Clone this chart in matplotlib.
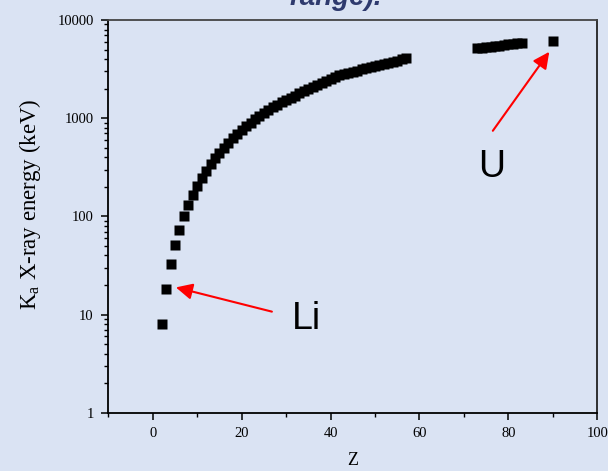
import matplotlib
matplotlib.use("Agg")
import matplotlib.pyplot as plt
from matplotlib.ticker import FixedLocator, FuncFormatter, LogLocator, MultipleLocator, NullFormatter

# ---- data ----
z_low = list(range(2, 58))
e_low = [8.05, 18.2, 32.6, 51, 73, 100, 131, 166, 204, 245, 288, 339, 389, 447,
         501, 562, 631, 692, 759, 832, 902, 977, 1047, 1122, 1202, 1288, 1365,
         1445, 1531, 1622, 1698, 1799, 1884, 1995, 2089, 2188, 2291, 2399, 2512,
         2630, 2748, 2818, 2897, 2972, 3048, 3133, 3214, 3296, 3388, 3475, 3565,
         3664, 3758, 3855, 3963, 4064]
z_high = list(range(73, 84))
e_high = [5140, 5210, 5280, 5350, 5420, 5490, 5560, 5630, 5700, 5780, 5890]
z_u = [90]
e_u = [6100]

y_ticks = [1, 10, 100, 1000, 10000]
x_ticks = [0, 20, 40, 60, 80, 100]

bg = "#dae3f3"

plt.rcParams["mathtext.fontset"] = "custom"
plt.rcParams["mathtext.rm"] = "Liberation Serif"
plt.rcParams["mathtext.it"] = "Liberation Serif:italic"

fig = plt.figure(figsize=(6.08, 4.71), dpi=100, facecolor=bg)
ax = fig.add_axes([108.3 / 608, 1 - 412.7 / 471, (597.3 - 108.3) / 608, (412.7 - 20) / 471])
ax.set_facecolor(bg)

ms = 6.6
ax.plot(z_low, e_low, "s", color="black", ms=ms, mec="none", clip_on=False)
ax.plot(z_high, e_high, "s", color="black", ms=ms, mec="none", clip_on=False)
ax.plot(z_u, e_u, "s", color="black", ms=ms, mec="none", clip_on=False)

ax.set_yscale("log")
ax.set_xlim(-10, 100)
ax.set_ylim(1, 10000)

ax.yaxis.set_major_locator(FixedLocator(y_ticks))
ax.yaxis.set_major_formatter(FuncFormatter(lambda v, p: f"{int(round(v))}"))
ax.yaxis.set_minor_locator(LogLocator(base=10, subs=range(2, 10), numticks=20))
ax.yaxis.set_minor_formatter(NullFormatter())
ax.xaxis.set_major_locator(FixedLocator(x_ticks))
ax.xaxis.set_minor_locator(MultipleLocator(10))

serif = "Liberation Serif"
for lab in ax.get_xticklabels() + ax.get_yticklabels():
    lab.set_fontfamily(serif)
    lab.set_fontsize(10.5)

ax.tick_params(which="major", direction="out", length=5, width=1.1, color="black",
               top=False, right=False)
ax.tick_params(which="minor", direction="out", length=3, width=1.0, color="black",
               top=False, right=False)
ax.tick_params(axis="y", which="major", pad=5.5)
ax.tick_params(axis="x", which="major", pad=5)
for s in ax.spines.values():
    s.set_linewidth(1.3)
    s.set_color("black")
ax.spines["top"].set_color("#444444")
ax.spines["right"].set_color("#222222")

ax.set_xlabel("Z", fontfamily=serif, fontsize=13, labelpad=9)
ax.set_ylabel(r"K$_\mathregular{a}$ X-ray energy (keV)", fontfamily=serif, fontsize=16.5)
ax.yaxis.set_label_coords(-0.134, 0.53)

# annotations
arrow_kw = dict(arrowstyle="-|>,head_length=0.45,head_width=0.22", color="red", lw=1.5,
                shrinkA=0, shrinkB=0, mutation_scale=22)
ax.annotate("", xy=(5.2, 18.9), xytext=(26.8, 10.7), arrowprops=arrow_kw)
ax.annotate("", xy=(89.2, 4745), xytext=(76.5, 744), arrowprops=arrow_kw)
ax.text(34.5, 9.0, "Li", fontfamily="Liberation Sans", fontsize=27, ha="center", va="center")
ax.text(76.3, 320, "U", fontfamily="Liberation Sans", fontsize=27, ha="center", va="center")

fig.text(335.5 / 608, 1 - 5 / 471, "range).", fontfamily="Liberation Sans", fontsize=20,
         fontweight="bold", fontstyle="italic", color="#2e3a6e", ha="center", va="baseline")

fig.savefig("out.png", dpi=100, facecolor=bg)
